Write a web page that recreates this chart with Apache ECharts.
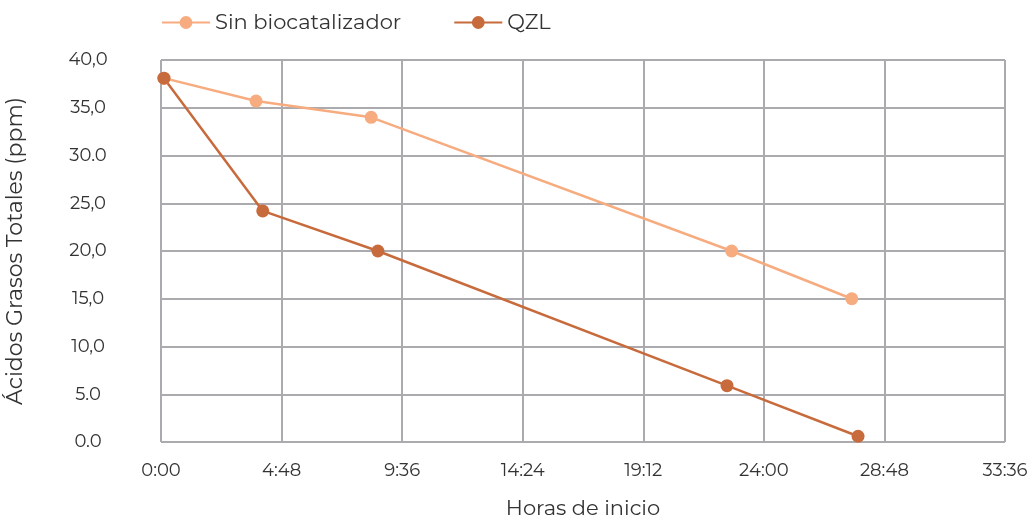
<!DOCTYPE html>
<html><head><meta charset="utf-8">
<script src="https://cdn.jsdelivr.net/npm/echarts@6/dist/echarts.min.js"></script>
<style>html,body{margin:0;padding:0;background:#fff}#c{width:1031px;height:518px}</style>
</head><body><div id="c"></div>
<script>
// time in minutes since start
const sinTimes = [7, 227, 502, 1363, 1650];
const sinValues = [38.1, 35.7, 34.0, 20.0, 15.0];
const qzlTimes = [7, 243, 518, 1352, 1665];
const qzlValues = [38.1, 24.2, 20.0, 5.9, 0.6];
const yTickLabels = ['0.0','5.0','10,0','15,0','20,0','25,0','30.0','35,0','40,0'];
const seriesNames = ['Sin biocatalizador', 'QZL'];

const font = 'Montserrat, "Open Sans", Lato, sans-serif';
const chart = echarts.init(document.getElementById('c'));
function fmtTime(m){const h=Math.floor(m/60), mm=Math.round(m%60);return h+':'+(mm<10?'0':'')+mm;}
chart.setOption({
  animation:false,
  grid:{left:161,right:26,top:60,bottom:76,outerBoundsMode:'none',containLabel:false},
  legend:{top:7,left:156,itemGap:52,itemWidth:48,itemHeight:16,
    textStyle:{fontSize:21,color:'#333',fontFamily:font},
    data:seriesNames},
  xAxis:{type:'value',min:0,max:2016,interval:288,
    name:'Horas de inicio',nameLocation:'middle',nameGap:56,
    nameTextStyle:{fontSize:21,color:'#333',fontFamily:font},
    axisLine:{show:false},axisTick:{show:false},
    axisLabel:{formatter:fmtTime,fontSize:18,color:'#333',fontFamily:font,margin:20},
    splitLine:{show:true,lineStyle:{color:'#ABABAF',width:2}}},
  yAxis:{type:'value',min:0,max:40,interval:5,
    name:'Ácidos Grasos Totales (ppm)',nameLocation:'middle',nameGap:134,nameRotate:90,
    nameTextStyle:{fontSize:22,color:'#333',fontFamily:font},
    axisLine:{show:false},axisTick:{show:false},
    axisLabel:{formatter:v=>yTickLabels[Math.round(v/5)],fontSize:18,color:'#333',fontFamily:font,margin:73,align:'center'},
    splitLine:{show:true,lineStyle:{color:'#ABABAF',width:2}}},
  series:[
    {name:seriesNames[0],type:'line',symbol:'circle',symbolSize:13,
     data:sinTimes.map((t,i)=>[t,sinValues[i]]),
     lineStyle:{color:'#F7AC80',width:2.5},itemStyle:{color:'#F7AC80'}},
    {name:seriesNames[1],type:'line',symbol:'circle',symbolSize:13,
     data:qzlTimes.map((t,i)=>[t,qzlValues[i]]),
     lineStyle:{color:'#C86B3C',width:2.5},itemStyle:{color:'#C86B3C'}}
  ]
});
</script></body></html>
